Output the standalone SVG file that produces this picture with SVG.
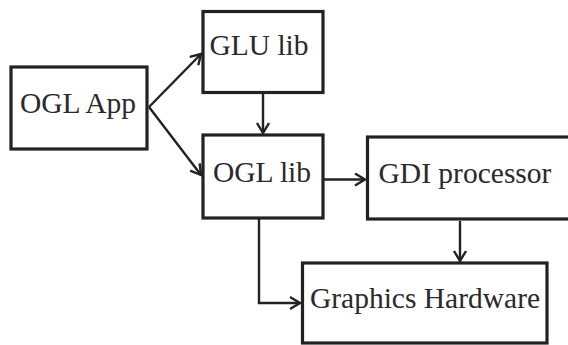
<svg xmlns="http://www.w3.org/2000/svg" width="568" height="345" viewBox="0 0 568 345">
<style>
  .box { fill: #fff; stroke: #222; stroke-width: 3.2; }
  .lbl { font-family: "Liberation Serif", "Times New Roman", serif; font-size: 29.5px; fill: #2a2a2a; text-anchor: middle; }
  .conn { fill: none; stroke: #222; stroke-width: 2.4; marker-end: url(#arr); }
</style>
<defs>
  <marker id="arr" markerUnits="userSpaceOnUse" markerWidth="14" markerHeight="16" refX="11" refY="7" orient="auto">
    <path d="M1,1 L11,7 L1,13" fill="none" stroke="#222" stroke-width="2.4"/>
  </marker>
</defs>
<rect width="568" height="345" fill="#fff"/>
<g id="connectors">
  <line class="conn" x1="149" y1="107" x2="201" y2="54"/>
  <line class="conn" x1="149" y1="107" x2="201" y2="175"/>
  <line class="conn" x1="263" y1="94" x2="263" y2="133"/>
  <line class="conn" x1="324" y1="179.5" x2="365" y2="179.5"/>
  <line class="conn" x1="460" y1="221" x2="460" y2="261"/>
  <polyline class="conn" points="259,219 259,303 300,303"/>
</g>
<g id="ogl-app">
  <rect class="box" x="11" y="67" width="136" height="82"/>
  <text class="lbl" x="78" y="113">OGL App</text>
</g>
<g id="glu-lib">
  <rect class="box" x="203" y="11.5" width="120" height="81"/>
  <text class="lbl" x="259" y="55">GLU lib</text>
</g>
<g id="ogl-lib">
  <rect class="box" x="203" y="135" width="120" height="83"/>
  <text class="lbl" x="262" y="182">OGL lib</text>
</g>
<g id="gdi-processor">
  <rect class="box" x="367.5" y="137" width="210" height="82"/>
  <text class="lbl" x="465" y="183">GDI processor</text>
</g>
<g id="graphics-hardware">
  <rect class="box" x="302.5" y="263" width="244.5" height="80"/>
  <text class="lbl" x="425" y="308">Graphics Hardware</text>
</g>
</svg>
